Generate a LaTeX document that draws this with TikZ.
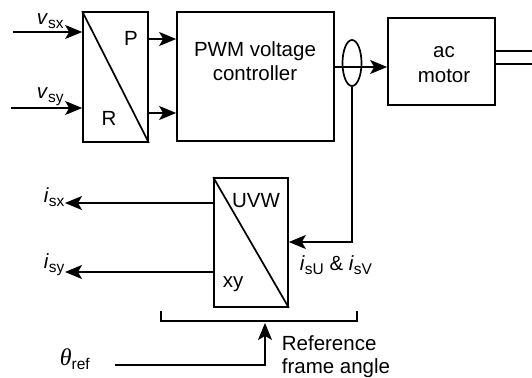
\documentclass[tikz,border=0pt]{standalone}
\usepackage{fontspec}
\setmainfont{Liberation Sans}
\newfontfamily\grserif{Liberation Serif}
\usetikzlibrary{arrows.meta,shapes.geometric}
\newcommand{\sbs}[1]{\raisebox{-4pt}{\fontsize{15.5}{15.5}\selectfont #1}}
\begin{document}
\begin{tikzpicture}[x=1pt,y=-1pt,
  line width=1.7pt,
  every node/.style={font=\fontsize{20.5}{24}\selectfont, inner sep=0pt},
  blk/.style={draw, rectangle, line width=1.7pt},
  arr/.style={-{Stealth[length=17pt,width=14pt,inset=4pt]}},
  lbl/.style={anchor=base west}]
\useasboundingbox (0,0) rectangle (532,377);
% boxes
\node[blk, minimum width=65pt, minimum height=130pt] (PR) at (115.5,77) {};
\node[blk, minimum width=157pt, minimum height=129pt] (PWM) at (255.5,76.5) {};
\node[blk, minimum width=107pt, minimum height=87pt] (MOT) at (441.5,61.5) {};
\node[blk, minimum width=74pt, minimum height=129pt] (UVW) at (251,242.5) {};
\node[draw, ellipse, minimum width=19pt, minimum height=46pt, line width=1.7pt] (ELL) at (352,63) {};
\draw (PR.north west) -- (PR.south east);
\draw (UVW.north west) -- (UVW.south east);
% texts in boxes
\node[anchor=base] (tP) at (131,46) {P};
\node[anchor=base] (tR) at (109,125) {R};
\node[anchor=base] (tPWM1) at (255,57) {PWM voltage};
\node[anchor=base] (tPWM2) at (255,81) {controller};
\node[anchor=base] (tac) at (444,58) {ac};
\node[anchor=base] (tmot) at (444,83) {motor};
\node[anchor=base] (tUVW) at (256,207) {UVW};
\node[anchor=base] (txy) at (233,287) {xy};
% input coordinates
\coordinate (vx) at (13,32);
\coordinate (vy) at (11,108);
\draw[arr] (vx) -- (vx -| PR.west);
\draw[arr] (vy) -- (vy -| PR.west);
\node[lbl] (lvx) at (36,25) {\textit{v}\sbs{sx}};
\node[lbl] (lvy) at (36,99) {\textit{v}\sbs{sy}};
% PR -> PWM
\coordinate (pP) at (148,39);
\coordinate (pR) at (148,113);
\draw[arr] (pP -| PR.east) -- (pP -| PWM.west);
\draw[arr] (pR -| PR.east) -- (pR -| PWM.west);
% PWM -> motor
\coordinate (pm) at (334,67);
\draw[arr] (pm -| PWM.east) -- (pm -| MOT.west);
% motor shaft
\coordinate (s1) at (532,51);
\coordinate (s2) at (532,64);
\draw (s1 -| MOT.east) -- (s1);
\draw (s2 -| MOT.east) -- (s2);
% feedback
\coordinate (fb) at (352,242);
\draw[arr] (ELL.south) -- (fb) -- (fb -| UVW.east);
\node[lbl] (lisu) at (299,270) {\textit{i}\sbs{sU} \& \textit{i}\sbs{sV}};
% outputs
\coordinate (ox) at (65,203);
\coordinate (oy) at (65,272);
\draw[arr] (ox -| UVW.west) -- (ox);
\draw[arr] (oy -| UVW.west) -- (oy);
\node[lbl] (lisx) at (43,202) {\textit{i}\sbs{sx}};
\node[lbl] (lisy) at (43,268) {\textit{i}\sbs{sy}};
% bracket
\coordinate (b1) at (161,311);
\coordinate (b2) at (161,321);
\coordinate (b3) at (357,321);
\coordinate (b4) at (357,311);
\draw (b1) -- (b2) -- (b3) -- (b4);
% theta
\coordinate (t0) at (115,365);
\coordinate (t1) at (265,365);
\coordinate (t2) at (265,323);
\draw[arr] (t0) -- (t1) -- (t2);
\node[lbl] (lth) at (59,365) {{\grserif\itshape\fontsize{24}{24}\selectfont θ}\sbs{ref}};
\node[lbl] (lref1) at (281,350) {Reference};
\node[lbl] (lref2) at (281,373) {frame angle};
\end{tikzpicture}
\end{document}
